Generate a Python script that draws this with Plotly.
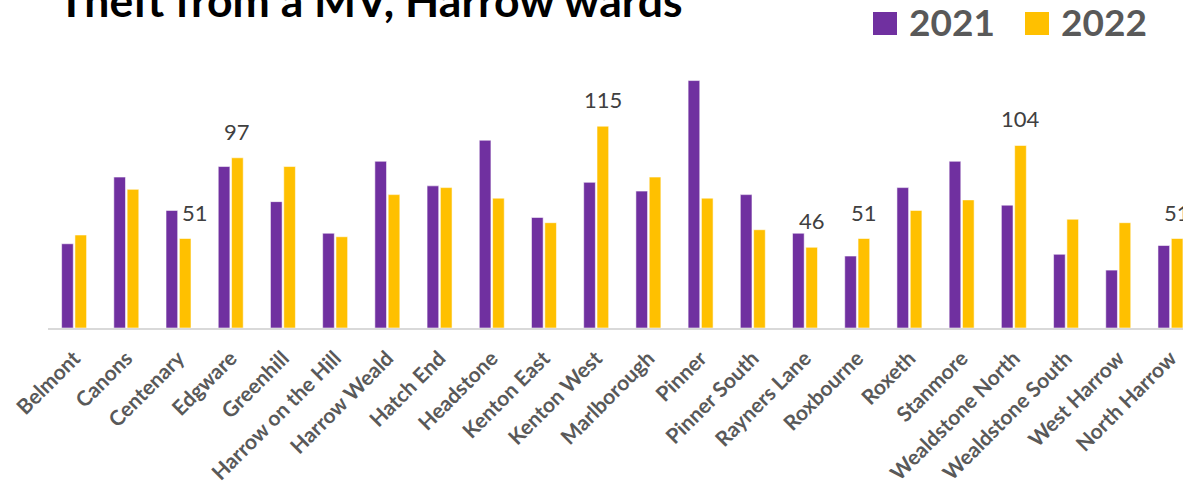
import plotly.graph_objects as go

wards = ["Belmont", "Canons", "Centenary", "Edgware", "Greenhill", "Harrow on the Hill",
         "Harrow Weald", "Hatch End", "Headstone", "Kenton East", "Kenton West",
         "Marlborough", "Pinner", "Pinner South", "Rayners Lane", "Roxbourne", "Roxeth",
         "Stanmore", "Wealdstone North", "Wealdstone South", "West Harrow", "North Harrow"]
v2021 = [48, 86, 67, 92, 72, 54, 95, 81, 107, 63, 83, 78, 141, 76, 54, 41, 80, 95, 70, 42, 33, 47]
v2022 = [53, 79, 51, 97, 92, 52, 76, 80, 74, 60, 115, 86, 74, 56, 46, 51, 67, 73, 104, 62, 60, 51]
# data labels shown in the reference (2022 series only)
labels2022 = ["", "", "51", "97", "", "", "", "", "", "", "115", "", "", "", "46", "51",
              "", "", "104", "", "", "51"]
series_names = ["2021", "2022"]
colors = ["#7030A0", "#FFC000"]
title_text = "Theft from a MV, Harrow wards"

W, H = 1183, 490
ML, MR, MT, MB = 48, 0, 60, 162
PW, PH = W - ML - MR, H - MT - MB

def px(x):
    return (x - ML) / PW

def py(y):
    return (H - MB - y) / PH

fig = go.Figure()
for name, vals, col in zip(series_names, [v2021, v2022], colors):
    fig.add_trace(go.Bar(
        x=wards, y=vals, name=name, showlegend=False, hoverinfo="skip",
        marker=dict(color=col, line=dict(color="rgba(255,255,255,0.55)", width=1)),
    ))

label_nudge = {"Centenary": 10}
annotations = []
for w, v, lab in zip(wards, v2022, labels2022):
    if lab:
        annotations.append(dict(
            x=w, y=v, xref="x", yref="y", text=lab, showarrow=False,
            xshift=6.7 + label_nudge.get(w, 0), yshift=11, yanchor="bottom",
            font=dict(family="Lato, sans-serif", size=22, color="#404040"),
        ))

# title
annotations.append(dict(
    x=px(56), y=py(28), xref="paper", yref="paper", text="<b>" + title_text + "</b>",
    showarrow=False, xanchor="left", yanchor="bottom",
    font=dict(family="Lato, sans-serif", size=44.5, color="#000000"),
))

# manual legend
shapes = []
legend_items = [(873, 909), (1025, 1061)]
for (sx, tx), name, col in zip(legend_items, series_names, colors):
    shapes.append(dict(type="rect", xref="paper", yref="paper",
                       x0=px(sx), x1=px(sx + 24), y0=py(35), y1=py(12),
                       fillcolor=col, line=dict(width=0)))
    annotations.append(dict(
        x=px(tx - 2), y=py(22), xref="paper", yref="paper", text="<b>" + name + "</b>",
        showarrow=False, xanchor="left", yanchor="middle",
        font=dict(family="Lato, sans-serif", size=37, color="#595959"),
    ))

fig.update_layout(
    width=W, height=H,
    margin=dict(l=ML, r=MR, t=MT, b=MB, autoexpand=False),
    paper_bgcolor="white", plot_bgcolor="white",
    barmode="group", bargap=0.49, bargroupgap=0.124,
    annotations=annotations, shapes=shapes,
    showlegend=False, hovermode=False,
)
fig.update_xaxes(
    range=[-0.5, 21.24], tickangle=-45, showgrid=False, ticks="",
    showline=True, linecolor="#D9D9D9", linewidth=1.5, ticklabelstandoff=8,
    tickfont=dict(family="Lato, sans-serif", size=21, color="#595959", weight="bold"),
)
fig.update_yaxes(range=[0, PH / 1.755], visible=False, showgrid=False)

fig.write_html("out.html", config={"displayModeBar": False},
               post_script="document.body.style.margin='0';document.body.style.padding='0';")
